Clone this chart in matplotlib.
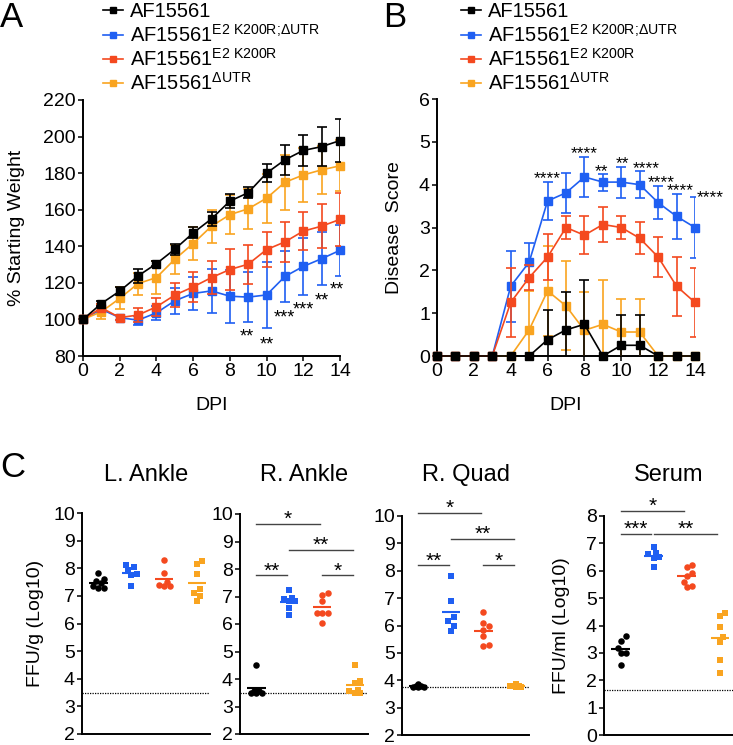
import numpy as np
import matplotlib
matplotlib.use('Agg')
import matplotlib.pyplot as plt
from matplotlib.lines import Line2D
from matplotlib import transforms

plt.rcParams['font.family'] = ['Liberation Sans', 'DejaVu Sans']
plt.rcParams['mathtext.fontset'] = 'custom'
plt.rcParams['mathtext.rm'] = 'Liberation Sans'
plt.rcParams['mathtext.it'] = 'Liberation Sans:italic'
plt.rcParams['mathtext.bf'] = 'Liberation Sans:bold'

BLACK, BLUE, RED, ORANGE = '#000000', '#1f5ff2', '#f4491f', '#f9a420'

# ---- panel A / B : time course ----
days = np.arange(15)
labels = ['AF15561',
          r'AF15561$^{\mathrm{E2\ K200R;\!\Delta UTR}}$',
          r'AF15561$^{\mathrm{E2\ K200R}}$',
          r'AF15561$^{\mathrm{\Delta UTR}}$']

weight_wt = [100, 108.7, 115.5, 123.8, 130.5, 138.4, 147.3, 155, 164.7, 169.3, 180, 187.3, 192.4, 194.5, 197.8]
weight_wt_err = [0, 1.5, 2, 4, 1.5, 3, 3, 4, 4, 3, 5, 8.2, 8.7, 10.5, 11.8]
weight_dbl = [100, 105.5, 101, 99.6, 103.6, 110.2, 114.2, 115.6, 112.7, 112.2, 113.4, 123.5, 129, 133.2, 137.8]
weight_dbl_err = [0, 1.5, 1.5, 2.5, 4, 7, 9, 12, 14.5, 13.5, 18, 14, 15.6, 14.5, 13.8]
weight_k200r = [100, 106.4, 101, 102.4, 106.9, 113.3, 117.8, 122.9, 127.3, 130.2, 138.2, 142.4, 148.3, 151, 154.7]
weight_k200r_err = [0, 2, 1.5, 4, 5, 6.4, 8, 9, 11, 10.7, 9.5, 10.8, 10.4, 12, 14.3]
weight_dutr = [100, 104.2, 111.5, 119.6, 122.9, 132.9, 141.5, 151, 157.3, 160.5, 166.3, 175, 179, 181.8, 184]
weight_dutr_err = [0, 4, 6, 6, 9, 8, 9, 9, 10.5, 11, 13.4, 15, 15, 13, 14]

score_wt = [0, 0, 0, 0, 0, 0, 0.38, 0.61, 0.74, 0, 0.25, 0.25, 0, 0, 0]
score_wt_err = [0, 0, 0, 0, 0, 0, 0.69, 0.88, 1.04, 0, 0.7, 0.7, 0, 0, 0]
score_dbl = [0, 0, 0, 0, 1.63, 2.19, 3.62, 3.81, 4.18, 4.06, 4.06, 4.0, 3.58, 3.26, 3.0]
score_dbl_err = [0, 0, 0, 0, 0.83, 0.45, 0.44, 0.46, 0.47, 0.2, 0.36, 0.32, 0.38, 0.52, 0.71]
score_k200r = [0, 0, 0, 0, 1.25, 1.83, 2.31, 3.0, 2.82, 3.07, 3.0, 2.75, 2.31, 1.63, 1.25]
score_k200r_err = [0, 0, 0, 0, 0.8, 0.3, 0.53, 0.27, 0.45, 0.41, 0.27, 0.37, 0.46, 0.69, 0.8]
score_dutr = [0, 0, 0, 0, 0, 0.61, 1.52, 1.17, 0.6, 0.74, 0.56, 0.56, 0, 0, 0]
score_dutr_err = [0, 0, 0, 0, 0, 0.9, 1.05, 1.04, 0.9, 1.04, 0.78, 0.78, 0, 0, 0]

stars_a = [(8.95, 93.2, '**'), (10.0, 89.2, '**'), (10.96, 103.9, '***'),
           (12.0, 108, '***'), (13.0, 113, '**'), (13.85, 119, '**')]
stars_b = [(6.0, 4.27, '****'), (7.98, 4.85, '****'), (8.95, 4.42, '**'), (10.08, 4.6, '**'),
           (11.34, 4.5, '****'), (12.19, 4.16, '****'), (13.18, 3.97, '****'), (14.85, 3.82, '****')]

# ---- panel C : titers ----
tissues = ['L. Ankle', 'R. Ankle', 'R. Quad', 'Serum']
titer = {
    'L. Ankle': [[7.82, 7.62, 7.55, 7.45, 7.3, 7.28, 7.35],
                 [8.1, 8.05, 7.95, 7.8, 7.76, 7.34],
                 [8.31, 7.82, 7.52, 7.4, 7.37, 7.34],
                 [8.28, 8.16, 7.79, 7.25, 7.12, 6.98, 6.8]],
    'R. Ankle': [[4.5, 3.6, 3.55, 3.5, 3.5, 3.55, 3.5],
                 [7.25, 6.95, 6.9, 6.85, 6.85, 6.6, 6.32],
                 [7.12, 7.06, 6.82, 6.4, 6.4, 6.4, 6.03],
                 [4.51, 3.94, 3.85, 3.6, 3.55, 3.5, 3.5]],
    'R. Quad': [[3.85, 3.8, 3.75, 3.75, 3.8, 3.75],
                [7.82, 6.91, 6.3, 6.16, 5.99, 5.8],
                [6.5, 6.08, 5.98, 5.85, 5.61, 5.25, 5.3],
                [3.85, 3.8, 3.8, 3.75, 3.8, 3.75]],
    'Serum': [[3.62, 3.45, 3.17, 2.99, 3.0, 2.54],
              [6.86, 6.64, 6.6, 6.5, 6.48, 6.13],
              [6.21, 6.13, 5.93, 5.79, 5.6, 5.42, 5.45],
              [4.45, 4.35, 3.96, 3.57, 3.38, 2.75, 2.26]],
}
lod = {'L. Ankle': 3.5, 'R. Ankle': 3.5, 'R. Quad': 3.75, 'Serum': 1.65}
# (group from, group to, height, label)
brackets = {
    'L. Ankle': [],
    'R. Ankle': [(0, 2, 9.64, '*'), (1, 3, 8.7, '**'), (0, 1, 7.77, '**'), (2, 3, 7.77, '*')],
    'R. Quad': [(0, 2, 10.1, '*'), (1, 3, 9.16, '**'), (0, 1, 8.2, '**'), (2, 3, 8.2, '*')],
    'Serum': [(0, 2, 8.18, '*'), (0, 1, 7.34, '***'), (1, 3, 7.34, '**')],
}

W, H = 733, 745
fig = plt.figure(figsize=(W / 100, H / 100), dpi=100)


def px_axes(left, bottom, width, height):
    return fig.add_axes([left / W, 1 - bottom / H, width / W, height / H])


def style(ax):
    for s in ['top', 'right']:
        ax.spines[s].set_visible(False)
    for s in ['left', 'bottom']:
        ax.spines[s].set_linewidth(1.4)
    ax.tick_params(labelsize=14, length=3.6, width=1.1, pad=1.5)


def put_stars(ax, x, y, s, size=13):
    # y is the visual centre of the asterisks
    ax.annotate(s, (x, y), xytext=(0, -0.55 * size), textcoords='offset points',
                ha='center', va='baseline', fontsize=size, annotation_clip=False)


def time_series(ax, y, err, color, z):
    y = np.asarray(y, float)
    err = np.asarray(err, float)
    m = err > 0
    ax.errorbar(days[m], y[m], yerr=err[m], fmt='none', ecolor=color,
                elinewidth=1.2, capsize=3.5, capthick=1.2, zorder=z - 0.5)
    ax.plot(days, y, color=color, lw=1.2, marker='s', ms=6, zorder=z, clip_on=False)


handles = [Line2D([], [], color=c, marker='s', ms=5, lw=1.2) for c in [BLACK, BLUE, RED, ORANGE]]
legend_kw = dict(loc='upper left', bbox_transform=fig.transFigure, frameon=False,
                 fontsize=14.5, handlelength=1.0, handletextpad=0.35, labelspacing=0.12,
                 borderpad=0, borderaxespad=0)

# Panel A
axA = px_axes(83, 356, 257, 256)
style(axA)
time_series(axA, weight_dbl, weight_dbl_err, BLUE, 3)
time_series(axA, weight_dutr, weight_dutr_err, ORANGE, 4)
time_series(axA, weight_k200r, weight_k200r_err, RED, 5)
time_series(axA, weight_wt, weight_wt_err, BLACK, 6)
axA.set_xlim(0, 14)
axA.set_ylim(80, 220)
axA.set_xticks(range(0, 15, 2))
axA.set_yticks(range(80, 221, 20))
axA.set_ylabel('% Starting Weight', fontsize=14)
axA.yaxis.set_label_coords(-0.226, 0.5)
axA.set_xlabel('DPI', fontsize=14)
axA.xaxis.set_label_coords(0.5, -0.16)
for x, y, s in stars_a:
    put_stars(axA, x, y, s)
axA.legend(handles, labels, bbox_to_anchor=(103 / W, 0.997), **legend_kw)

# Panel B
axB = px_axes(437, 356, 258, 257)
style(axB)
time_series(axB, score_dbl, score_dbl_err, BLUE, 3)
time_series(axB, score_dutr, score_dutr_err, ORANGE, 4)
time_series(axB, score_k200r, score_k200r_err, RED, 5)
time_series(axB, score_wt, score_wt_err, BLACK, 6)
axB.set_xlim(0, 14)
axB.set_ylim(0, 6)
axB.set_xticks(range(0, 15, 2))
axB.set_yticks(range(0, 7))
axB.set_ylabel('Disease  Score', fontsize=14)
axB.yaxis.set_label_coords(-0.132, 0.5)
axB.set_xlabel('DPI', fontsize=14)
axB.xaxis.set_label_coords(0.5, -0.16)
for x, y, s in stars_b:
    put_stars(axB, x, y, s, size=12.5)
axB.legend(handles, labels, bbox_to_anchor=(461 / W, 0.997), **legend_kw)


# Panel C
def swarm(vals, px_x, px_y, size=5.5):
    # small beeswarm: points may overlap a little, spread at most two steps
    order = np.argsort(vals)
    placed = []
    offs = np.zeros(len(vals))
    for i in order:
        best, best_d = 0.0, -1.0
        for k in [0, 1, -1, 2, -2]:
            dx = k * size / 2
            d = min([np.hypot(dx - p, (vals[i] - v) * px_y) for p, v in placed] or [99])
            if d >= size:
                best = dx
                break
            if d > best_d:
                best, best_d = dx, d
        placed.append((best, vals[i]))
        offs[i] = best / px_x
    return offs


c_boxes = {'L. Ankle': (82, 734, 128, 221), 'R. Ankle': (240, 734, 128, 220),
           'R. Quad': (402, 735, 127, 219), 'Serum': (604, 735, 129, 219)}
colors = [BLACK, BLUE, RED, ORANGE]
markers = ['o', 's', 'o', 's']

for name in tissues:
    l, b, w, h = c_boxes[name]
    ax = px_axes(l, b, w, h)
    style(ax)
    ylo, yhi = (0, 8) if name == 'Serum' else (2, 10)
    ax.set_xlim(-0.5, 3.4)
    ax.set_ylim(ylo, yhi)
    ax.set_yticks(range(ylo, yhi + 1))
    ax.set_xticks([])
    px_x = w / 3.9
    px_y = h / (yhi - ylo)
    for g, vals in enumerate(titer[name]):
        vals = np.asarray(vals)
        xs = g + swarm(vals, px_x, px_y)
        ax.scatter(xs, vals, s=22, marker=markers[g], color=colors[g],
                   linewidths=0, zorder=3, clip_on=False)
        ax.hlines(vals.mean(), g - 0.28, g + 0.28, color=colors[g], lw=1.5, zorder=4)
    ax.axhline(lod[name], color='black', lw=0.9, ls=(0, (1, 1)), zorder=1)
    for g0, g1, y, s in brackets[name]:
        x0, x1 = g0, g1 - 0.07
        ax.plot([x0, x1], [y, y], color='#444444', lw=1.0, clip_on=False)
        put_stars(ax, (x0 + x1) / 2, y + 0.38, s, size=15)
    tr = transforms.blended_transform_factory(ax.transAxes, fig.transFigure)
    ax.text(0.5, 1 - 481 / H, name, transform=tr, ha='center', va='baseline', fontsize=17)
    if name == 'L. Ankle':
        ax.set_ylabel('FFU/g (Log10)', fontsize=14)
        ax.yaxis.set_label_coords(-0.297, 0.5)
    if name == 'Serum':
        ax.set_ylabel('FFU/ml (Log10)', fontsize=14)
        ax.yaxis.set_label_coords(-0.264, 0.5)

# panel letters
fig.text(0 / W, 1 - 27 / H, 'A', fontsize=25, va='baseline')
fig.text(383 / W, 1 - 27 / H, 'B', fontsize=25, va='baseline')
fig.text(0 / W, 1 - 477 / H, 'C', fontsize=25, va='baseline')

fig.savefig('out.png', dpi=100)
